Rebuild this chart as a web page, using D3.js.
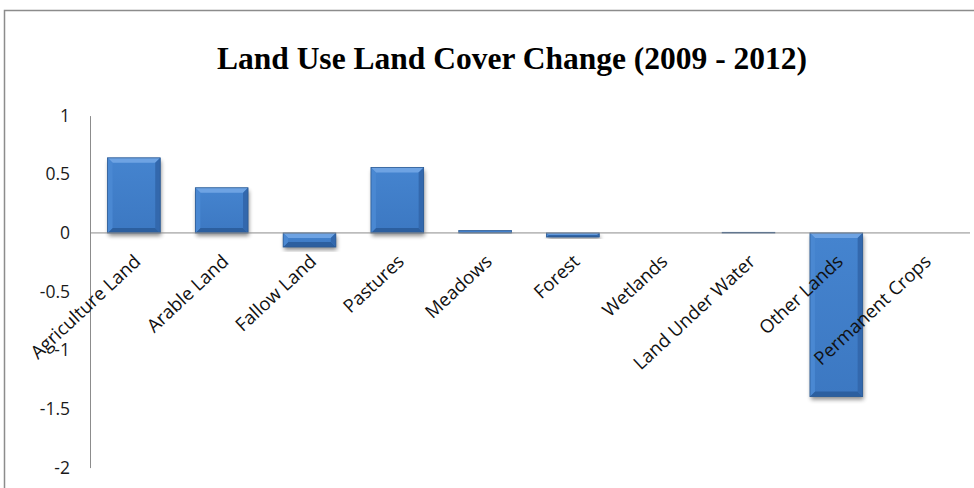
<!DOCTYPE html>
<html>
<head>
<meta charset="utf-8">
<script src="https://cdn.jsdelivr.net/npm/d3@7"></script>
<style>
  html, body { margin: 0; padding: 0; background: #fff; }
  svg { display: block; }
</style>
</head>
<body>
<svg id="chart" width="974" height="488"></svg>
<script>
// Land use categories and their change between 2009 and 2012
const categories = [
  "Agriculture Land", "Arable Land", "Fallow Land", "Pastures", "Meadows",
  "Forest", "Wetlands", "Land Under Water", "Other Lands", "Permanent Crops"
];
const changes = [0.64, 0.385, -0.12, 0.557, 0.02, -0.035, 0, 0.005, -1.395, 0];
const yTicks = [1, 0.5, 0, -0.5, -1, -1.5, -2];
const titleText = "Land Use Land Cover Change (2009 - 2012)";

const svg = d3.select("#chart");
const plot = { left: 90, right: 968, top: 115.6, bottom: 467.6 };

// frame around the chart area
svg.append("rect")
  .attr("x", 4.5).attr("y", 10.5)
  .attr("width", 1000).attr("height", 600)
  .attr("fill", "none").attr("stroke", "#8c8c8c").attr("stroke-width", 1.5);

const defs = svg.append("defs");
const sh = defs.append("filter").attr("id", "barShadow")
  .attr("x", "-30%").attr("y", "-30%").attr("width", "160%").attr("height", "160%");
sh.append("feGaussianBlur").attr("in", "SourceAlpha").attr("stdDeviation", 2);
sh.append("feOffset").attr("dx", 1).attr("dy", 3).attr("result", "off");
sh.append("feComponentTransfer").append("feFuncA").attr("type", "linear").attr("slope", 0.45);

const faceGrad = defs.append("linearGradient").attr("id", "face")
  .attr("x1", 0).attr("y1", 0).attr("x2", 0).attr("y2", 1);
faceGrad.append("stop").attr("offset", "0%").attr("stop-color", "#4584cf");
faceGrad.append("stop").attr("offset", "100%").attr("stop-color", "#3c78c2");

const x = d3.scaleBand().domain(categories)
  .range([plot.left, plot.right]).paddingInner(0.4).paddingOuter(0.2);
const y = d3.scaleLinear().domain([-2, 1]).range([plot.bottom, plot.top]);

// title
svg.append("text")
  .attr("x", 512).attr("y", 69)
  .attr("text-anchor", "middle")
  .attr("font-family", "'Liberation Serif', 'Times New Roman', serif")
  .attr("font-weight", "bold")
  .attr("font-size", 31.5)
  .attr("fill", "#000")
  .text(titleText);

// y axis
const yAxis = svg.append("g").attr("transform", `translate(${plot.left},0)`)
  .call(d3.axisLeft(y).tickValues(yTicks).tickSize(0).tickPadding(20)
    .tickFormat(d => String(d)));
yAxis.select(".domain").attr("stroke", "#8c8c8c");
yAxis.selectAll("text")
  .attr("font-family", "'Open Sans', sans-serif")
  .attr("font-size", 17.5)
  .attr("fill", "#1a1a1a");

// bars
const data = categories.map((c, i) => ({ c, v: changes[i] }));
const bw = x.bandwidth();
const bars = svg.append("g");

data.forEach(d => {
  const x0 = x(d.c);
  const yTop = y(Math.max(d.v, 0));
  const yBot = y(Math.min(d.v, 0));
  const h = yBot - yTop;
  if (h <= 0) return;
  const g = bars.append("g");
  g.append("rect").attr("x", x0).attr("y", yTop).attr("width", bw).attr("height", h)
    .attr("fill", "#000").attr("filter", "url(#barShadow)");
  g.append("rect").attr("x", x0).attr("y", yTop).attr("width", bw).attr("height", h)
    .attr("fill", h < 2 ? "#7aa6dc" : "url(#face)");
  if (h >= 3) {
    const b = Math.min(5, h / 2.2, bw / 2);
    const x1 = x0 + bw;
    const poly = (pts, fill) => g.append("polygon")
      .attr("points", pts.map(p => p.join(",")).join(" ")).attr("fill", fill);
    poly([[x0, yTop], [x1, yTop], [x1 - b, yTop + b], [x0 + b, yTop + b]], "#6ea3e3");
    poly([[x0, yBot], [x1, yBot], [x1 - b, yBot - b], [x0 + b, yBot - b]], "#2c5f9f");
    poly([[x0, yTop], [x0 + b, yTop + b], [x0 + b, yBot - b], [x0, yBot]], "#4a88d2");
    poly([[x1, yTop], [x1 - b, yTop + b], [x1 - b, yBot - b], [x1, yBot]], "#3368ad");
  }
  g.append("rect").attr("x", x0).attr("y", yTop).attr("width", bw).attr("height", h)
    .attr("fill", "none").attr("stroke", "#2b5a94").attr("stroke-width", 0.8);
});

// zero line
svg.append("line")
  .attr("x1", plot.left).attr("x2", 970)
  .attr("y1", y(0)).attr("y2", y(0))
  .attr("stroke", "#8c8c8c").attr("stroke-width", 1);

// category labels
svg.append("g").selectAll("text").data(categories).join("text")
  .attr("transform", d => `translate(${x(d) + bw / 2 + 8},${y(0) + 30}) rotate(-43)`)
  .attr("text-anchor", "end")
  .attr("font-family", "'Open Sans', sans-serif")
  .attr("font-size", 18.5)
  .attr("fill", "#111")
  .text(d => d);
</script>
</body>
</html>
